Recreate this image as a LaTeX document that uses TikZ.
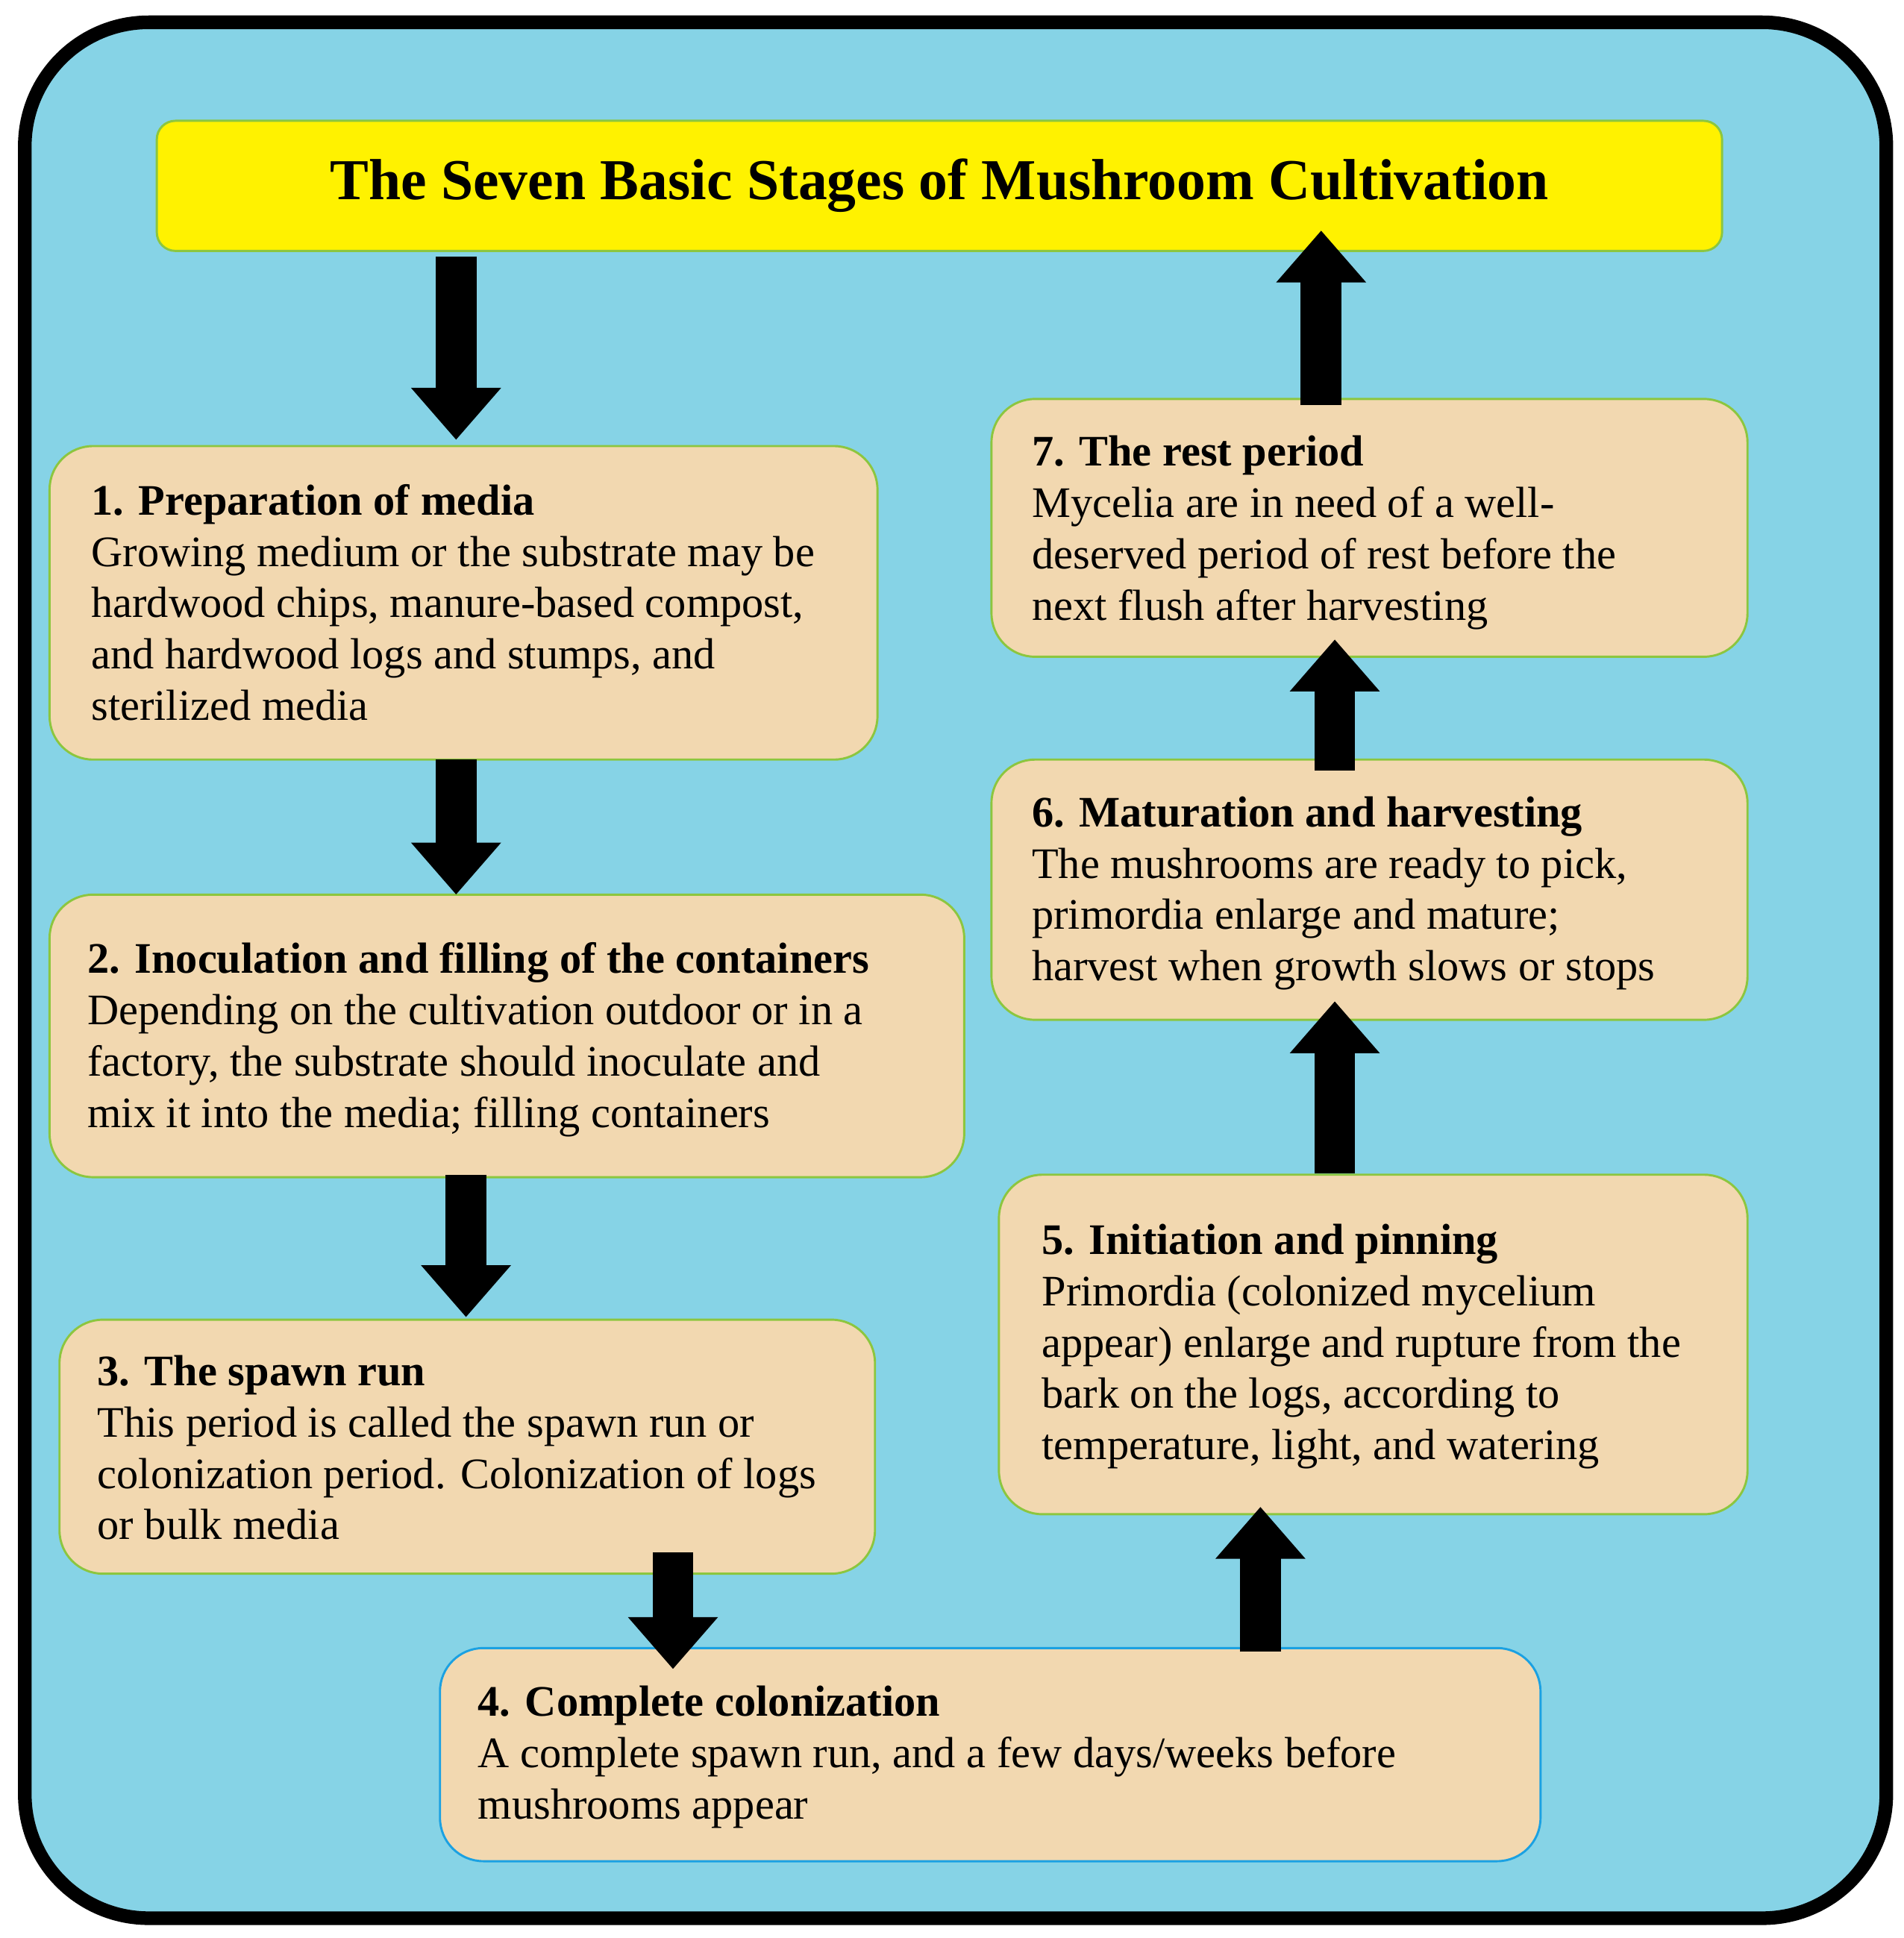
\documentclass[tikz,border=0pt]{standalone}
\usepackage{fontspec}
\setmainfont{Liberation Serif}
\usetikzlibrary{arrows.meta}
\definecolor{sea}{HTML}{86D3E6}
\definecolor{tan}{HTML}{F2D8B0}
\definecolor{gborder}{HTML}{8CC63F}
\definecolor{cborder}{HTML}{1BA1E2}
\begin{document}
\begin{tikzpicture}[x=0.1mm,y=-0.1mm,
  stage/.style={draw=gborder,line width=0.5pt,fill=tan,rounded corners=3.5mm},
  txt/.style={anchor=north west,align=left,inner sep=0pt,font=\fontsize{10}{11.8}\selectfont},
  blk/.style={line width=3.3mm,-{Triangle[width=7mm,length=4.2mm]}}]
\useasboundingbox (0,0) rectangle (1536,1564);
\fill[white] (0,0) rectangle (1536,1564);
\draw[line width=1.1mm,fill=sea,rounded corners=10mm] (20,18) rectangle (1522,1548);
\node[draw=gborder,fill=yellow,line width=0.5pt,rounded corners=1.5mm,minimum width=126.3mm,minimum height=10.5mm,
  font=\fontsize{13.3}{16}\selectfont\bfseries] (title) at (758,150) {The Seven Basic Stages of Mushroom Cultivation};
\path[stage] (40,360) rectangle (708,613);
\node[txt] (t1) at (73,390) {\textbf{1. Preparation of media}\\Growing medium or the substrate may be\\hardwood chips, manure-based compost,\\and hardwood logs and stumps, and\\sterilized media};
\path[stage] (40,722) rectangle (778,950);
\node[txt] (t2) at (70,760) {\textbf{2. Inoculation and filling of the containers}\\Depending on the cultivation outdoor or in a\\factory, the substrate should inoculate and\\mix it into the media; filling containers};
\path[stage] (48,1065) rectangle (706,1270);
\node[txt] (t3) at (78,1093) {\textbf{3. The spawn run}\\This period is called the spawn run or\\colonization period. Colonization of logs\\or bulk media};
\path[stage,draw=cborder] (355,1330) rectangle (1243,1502);
\node[txt] (t4) at (385,1360) {\textbf{4. Complete colonization}\\A complete spawn run, and a few days/weeks before\\mushrooms appear};
\path[stage] (806,948) rectangle (1410,1222);
\node[txt] (t5) at (840,987) {\textbf{5. Initiation and pinning}\\Primordia (colonized mycelium\\appear) enlarge and rupture from the\\bark on the logs, according to\\temperature, light, and watering};
\path[stage] (800,613) rectangle (1410,823);
\node[txt] (t6) at (832,642) {\textbf{6. Maturation and harvesting}\\The mushrooms are ready to pick,\\primordia enlarge and mature;\\harvest when growth slows or stops};
\path[stage] (800,322) rectangle (1410,530);
\node[txt] (t7) at (832,351) {\textbf{7. The rest period}\\Mycelia are in need of a well-\\deserved period of rest before the\\next flush after harvesting};
\coordinate (a1) at (368,207); \coordinate (a2) at (368,355);
\coordinate (c1) at (368,613); \coordinate (c2) at (368,722);
\coordinate (d1) at (376,948); \coordinate (d2) at (376,1063);
\coordinate (e1) at (543,1253); \coordinate (e2) at (543,1347);
\coordinate (f1) at (1017,1333); \coordinate (f2) at (1017,1216);
\coordinate (g1) at (1077,947); \coordinate (g2) at (1077,808);
\coordinate (h1) at (1077,622); \coordinate (h2) at (1077,516);
\coordinate (i1) at (1066,327); \coordinate (i2) at (1066,186);
\foreach \p/\q in {a1/a2,c1/c2,d1/d2,e1/e2,f1/f2,g1/g2,h1/h2,i1/i2} \draw[blk] (\p) -- (\q);
\end{tikzpicture}
\end{document}
